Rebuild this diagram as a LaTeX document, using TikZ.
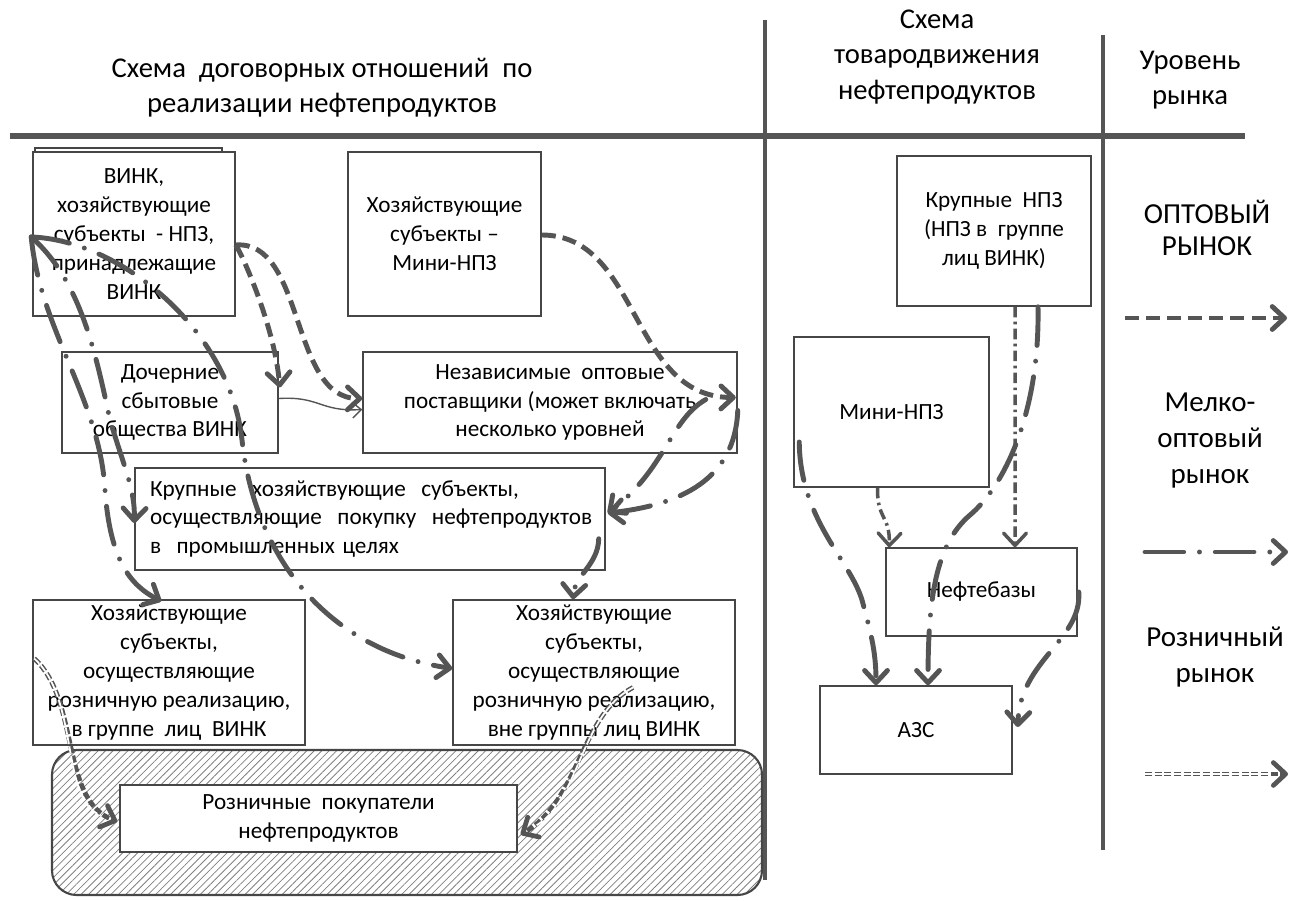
\documentclass[tikz,border=0pt]{standalone}
\usepackage{fontspec}
\setmainfont{Carlito}
\usetikzlibrary{positioning,calc,arrows.meta,patterns.meta}
\definecolor{linegray}{RGB}{85,85,85}
\definecolor{boxgray}{RGB}{70,70,70}

\begin{document}
\begin{tikzpicture}[x=0.02cm, y=-0.02cm,
	box/.style={draw=boxgray, line width=0.9pt, fill=white, align=center, inner sep=2pt, font=\fontsize{13.2}{16.4}\selectfont},
	head/.style={align=center, font=\fontsize{16.3}{20}\selectfont},
	legtext/.style={align=center, font=\fontsize{16.5}{20.5}\selectfont},
	headtip/.style={-{Straight Barb[length=7pt, width=13pt, round]}},
	opt/.style={draw=linegray, line width=2.8pt, dash pattern=on 8pt off 4pt, headtip},
	melk/.style={draw=linegray, line width=2.8pt, line cap=round, dash pattern=on 22pt off 9pt on 0pt off 9pt, headtip},
	fine/.style={draw=linegray, line width=2pt, dash pattern=on 6pt off 2.5pt on 1.5pt off 2.5pt, headtip},
	roznica/.style={draw=linegray, line width=2.7pt, dash pattern=on 4pt off 1.5pt, headtip},
	roznicain/.style={draw=white, line width=1pt, dash pattern=on 4pt off 1.5pt, shorten >=10pt},
	thinarr/.style={draw=linegray, line width=0.8pt, -{Straight Barb[length=5pt, width=9pt]}}]

	\useasboundingbox (0,0) rectangle (1290,901);

	% headers and dividers
	\node[head] (h1) at (322,88) {Схема~ договорных отношений~ по\\реализации нефтепродуктов};
	\node[head] (h2) at (937,57) {Схема\\товародвижения\\нефтепродуктов};
	\node[head] (h3) at (1190,80) {Уровень\\рынка};
	\draw[draw=linegray, line width=3pt] (10,136) -- (1245,136);
	\draw[draw=linegray, line width=2.4pt] (765,20) -- (765,880);
	\draw[draw=linegray, line width=2.4pt] (1103,35) -- (1103,850);

	% left part
	\draw[draw=boxgray, line width=0.9pt, fill=white] (35,148) rectangle (222,300);
	\node[box, minimum width=4.04cm, minimum height=3.28cm] (vink) at (134,234) {ВИНК,\\хозяйствующие\\субъекты~ - НПЗ,\\принадлежащие\\ВИНК};
	\node[box, minimum width=3.86cm, minimum height=3.28cm] (mini) at (444.5,234) {Хозяйствующие\\субъекты --\\Мини-НПЗ};
	\node[box, minimum width=4.32cm, minimum height=2.02cm] (doch) at (170,402.5) {Дочерние\\сбытовые\\общества ВИНК};
	\node[box, minimum width=7.48cm, minimum height=2.02cm] (nez) at (550,402.5) {Независимые~ оптовые\\поставщики (может включать\\несколько уровней};
	\node[box, align=left, text width=8.8cm, inner xsep=0.3cm, minimum height=2.04cm] (krup) at (370,519) {Крупные~ хозяйствующие~ субъекты,\\осуществляющие~ покупку~ нефтепродуктов\\в~ промышленных целях};
	\node[box, minimum width=5.44cm, minimum height=2.9cm] (vgr) at (169,672.5) {Хозяйствующие\\субъекты,\\осуществляющие\\розничную реализацию,\\в группе~ лиц~ ВИНК};
	\node[box, minimum width=5.64cm, minimum height=2.9cm] (vne) at (594,672.5) {Хозяйствующие\\субъекты,\\осуществляющие\\розничную реализацию,\\вне группы лиц ВИНК};
	\draw[draw=boxgray, line width=1.2pt, rounded corners=14pt, pattern={Lines[angle=45, distance=3pt, line width=0.45pt]}, pattern color=gray] (52,750) rectangle (762,895);
	\node[box, minimum width=7.94cm, minimum height=1.34cm] (roz) at (318.5,818.5) {Розничные~ покупатели\\нефтепродуктов};

	% right part
	\node[box, minimum width=3.88cm, minimum height=3cm] (knpz) at (994,231) {Крупные~ НПЗ\\(НПЗ в~ группе\\лиц ВИНК)};
	\node[box, minimum width=3.9cm, minimum height=3cm] (mnpz) at (891.5,412) {Мини-НПЗ};
	\node[box, minimum width=3.82cm, minimum height=1.76cm] (neft) at (981.5,592) {Нефтебазы};
	\node[box, minimum width=3.84cm, minimum height=1.76cm] (azs) at (916,730) {АЗС};

	% legend
	\node[legtext, font=\fontsize{16.5}{18}\selectfont] (lopt) at (1207,228) {ОПТОВЫЙ\\РЫНОК};
	\node[legtext] (lmelk) at (1210,441) {Мелко-\\оптовый\\рынок};
	\node[legtext] (lroz) at (1215,657) {Розничный\\рынок};
	\coordinate (o1) at (1125,318);
	\coordinate (o2) at (1287,318);
	\coordinate (m1) at (1145,552);
	\coordinate (m2) at (1288,552);
	\coordinate (r1) at (1145,774);
	\coordinate (r2) at (1288,774);
	\draw[opt] (o1) -- (o2);
	\draw[melk] (m1) -- (m2);
	\draw[roznica] (r1) -- (r2);
	\draw[roznicain] (r1) -- (r2);

	% wholesale links
	\draw[opt] ($(vink.east)+(0,11)$) .. controls (245,260) and (275,330) .. ($(doch.east)+(1,-15)$);
	\draw[opt] ($(vink.east)+(0,11)$) .. controls (305,240) and (290,398) .. ($(nez.west)+(0,-4)$);
	\draw[opt] ($(mini.east)+(0,1)$) .. controls (640,235) and (630,397) .. ($(nez.east)+(-2,-5)$);
	\draw[thinarr] ($(doch.east)+(0,-4)$) .. controls (320,396) and (320,412) .. ($(nez.west)+(0,7)$);

	% small wholesale links
	\draw[melk] ($(vink.west)+(-1,3)$) .. controls (40,330) and (100,400) .. (105,490) .. controls (110,560) and (130,585) .. ($(vgr.north west)+(129,2)$);
	\draw[melk] ($(vink.west)+(-1,3)$) .. controls (80,280) and (95,350) .. (110,420) .. controls (125,470) and (135,490) .. ($(krup.west)+(0,4)$);
	\draw[melk] ($(vink.west)+(-1,3)$) .. controls (120,240) and (230,330) .. (242,440) .. controls (255,560) and (330,650) .. ($(vne.west)+(0,-4)$);
	\draw[melk] ($(nez.east)+(0,8)$) .. controls (735,480) and (680,505) .. ($(krup.east)+(2,-6)$);
	\draw[melk] ($(nez.east)+(-32,-3)$) .. controls (670,420) and (665,470) .. ($(krup.east)+(2,-6)$);
	\draw[melk] ($(krup.south east)+(-7,-32)$) .. controls (598,565) and (575,575) .. ($(vne.north)+(-21,0)$);

	% retail links
	\draw[roznica] ($(vgr.west)+(2,-14)$) .. controls (80,700) and (60,800) .. ($(roz.west)+(-2,3)$);
	\draw[roznicain] ($(vgr.west)+(2,-14)$) .. controls (80,700) and (60,800) .. ($(roz.west)+(-2,3)$);
	\draw[roznica] ($(vne.center)+(39,15)$) .. controls (580,715) and (580,800) .. ($(roz.east)+(3,16)$);
	\draw[roznicain] ($(vne.center)+(39,15)$) .. controls (580,715) and (580,800) .. ($(roz.east)+(3,16)$);

	% goods flow
	\draw[fine] ($(knpz.south)+(21,0)$) -- ($(neft.north)+(33.5,0)$);
	\draw[fine] ($(mnpz.south)+(-14,0)$) .. controls (877,520) and (890,515) .. ($(neft.north west)+(4,0)$);
	\draw[melk] ($(knpz.south)+(44,0)$) .. controls (1040,420) and (1000,490) .. (970,515) .. controls (935,545) and (928,600) .. ($(azs.north)+(12,0)$);
	\draw[melk] ($(mnpz.west)+(6,30)$) .. controls (800,520) and (850,560) .. (862,600) .. controls (870,630) and (876,650) .. ($(azs.north)+(-40,0)$);
	\draw[melk] ($(neft.east)+(1,0)$) .. controls (1082,640) and (1020,660) .. ($(azs.east)+(5,-3)$);

\end{tikzpicture}
\end{document}
